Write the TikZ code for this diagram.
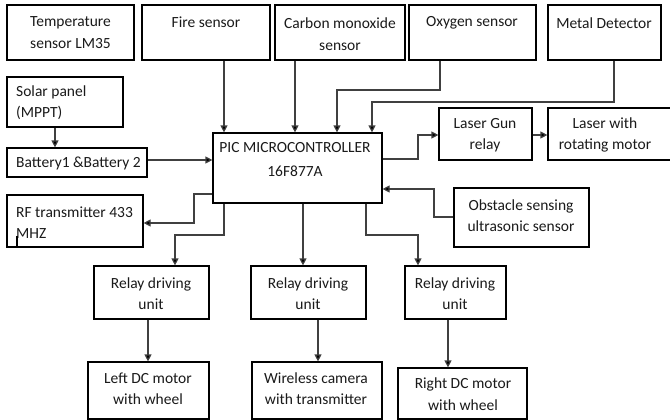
\documentclass[tikz,border=0pt]{standalone}
\usepackage{fontspec}
\setmainfont{Carlito}
\usetikzlibrary{arrows.meta}
\definecolor{linegray}{HTML}{404040}
\definecolor{txtcol}{HTML}{1A1A1A}
\tikzset{
  box/.style={draw=black, line width=1.2pt, rectangle, inner sep=0pt, fill=white},
  txt/.style={inner sep=0pt, text=txtcol, font=\fontsize{15.5}{21.5}\selectfont, align=center},
  ltxt/.style={txt, align=left, anchor=west},
  conn/.style={draw=linegray, line width=1.2pt, -{Triangle[length=7pt,width=7pt,fill=black]}},
}
\newcommand\mkbox[5]{\node[box,minimum width={#4-#2},minimum height={#5-#3}] (#1) at ({(#2+#4)/2},{(#3+#5)/2}) {};}
\begin{document}
\begin{tikzpicture}[x=1pt,y=-1pt]
\useasboundingbox (0,0) rectangle (670,420);
\fill[white] (0,0) rectangle (670,420);
% boxes
\mkbox{temp}{7}{5}{134}{60}
\mkbox{fire}{142}{5}{270}{60}
\mkbox{carbon}{275}{5}{405}{60}
\mkbox{oxy}{409}{5}{536}{60}
\mkbox{metal}{548}{5}{661}{60}
\mkbox{solar}{7}{77}{123}{127}
\mkbox{bat}{7}{148}{147}{177}
\mkbox{pic}{213}{133}{382}{203}
\mkbox{lgun}{439}{108}{532}{160}
\mkbox{lmot}{548}{108}{674}{160}
\mkbox{obs}{454}{188}{589}{247}
\mkbox{rf}{7}{195}{143}{247}
\mkbox{ra}{94}{266}{209}{319}
\mkbox{rb}{251}{266}{366}{319}
\mkbox{rc}{405}{266}{506}{319}
\mkbox{ldc}{88}{362}{209}{419}
\mkbox{cam}{252}{362}{382}{419}
\mkbox{rdc}{398}{368}{527}{419}
% texts
\node[txt] (temp-t) at (70.5,32.5) {Temperature\\sensor LM35};
\node[txt] (fire-t) at (206,22) {Fire sensor};
\node[txt] (carbon-t) at (340,34) {Carbon monoxide\\sensor};
\node[txt] (oxy-t) at (472,23) {Oxygen sensor};
\node[txt] (metal-t) at (604,23) {Metal Detector};
\node[ltxt] (solar-t) at (16,102.5) {Solar panel\\(MPPT)};
\node[ltxt] (bat-t) at (16,163) {Battery1 \&Battery 2};
\node[txt] (pic-t) at (295,159.5) {PIC MICROCONTROLLER\\[3pt]16F877A};
\node[txt] (lgun-t) at (485,135) {Laser Gun\\relay};
\node[txt] (lmot-t) at (605,135) {Laser with\\rotating motor};
\node[txt] (obs-t) at (521,215.5) {Obstacle sensing\\ultrasonic sensor};
\node[ltxt] (rf-t) at (16,222.5) {RF transmitter 433\\MHZ};
\node[txt] (ra-t) at (151,293.5) {Relay driving\\unit};
\node[txt] (rb-t) at (308,293.5) {Relay driving\\unit};
\node[txt] (rc-t) at (455,293.5) {Relay driving\\unit};
\node[txt] (ldc-t) at (148,388.5) {Left DC motor\\with wheel};
\node[txt] (cam-t) at (316,388.5) {Wireless camera\\with transmitter};
\node[txt] (rdc-t) at (463,394) {Right DC motor\\with wheel};
% cursor mark
\draw[black, line width=1.6pt] (rf.south -| 17,0) -- (17,236);
% connectors
\draw[conn] (fire.south -| 224,0) -- (pic.north -| 224,0);
\draw[conn] (carbon.south -| 295,0) -- (pic.north -| 295,0);
\draw[conn] (oxy.south -| 440,0) |- (337,90) -- (pic.north -| 337,0);
\draw[conn] (metal.south -| 614,0) |- (372,102) -- (pic.north -| 372,0);
\draw[conn] (solar.south -| 55,0) -- (bat.north -| 55,0);
\draw[conn] (bat.east |- 0,160) -- (pic.west |- 0,160);
\draw[conn] (pic.east |- 0,159) -| (418,135) -- (lgun.west |- 0,135);
\draw[conn] (lgun.east |- 0,135) -- (lmot.west |- 0,135);
\draw[conn] (obs.west |- 0,217) -| (434,189) -- (pic.east |- 0,189);
\draw[conn] (pic.west |- 0,194) -| (194,223) -- (rf.east |- 0,223);
\draw[conn] (pic.south -| 224,0) |- (175,235) -- (ra.north -| 175,0);
\draw[conn] (pic.south -| 303,0) -- (rb.north -| 303,0);
\draw[conn] (pic.south -| 366,0) |- (418,235) -- (rc.north -| 418,0);
\draw[conn] (ra.south -| 148,0) -- (ldc.north -| 148,0);
\draw[conn] (rb.south -| 318,0) -- (cam.north -| 318,0);
\draw[conn] (rc.south -| 448,0) -- (rdc.north -| 448,0);
\end{tikzpicture}
\end{document}
